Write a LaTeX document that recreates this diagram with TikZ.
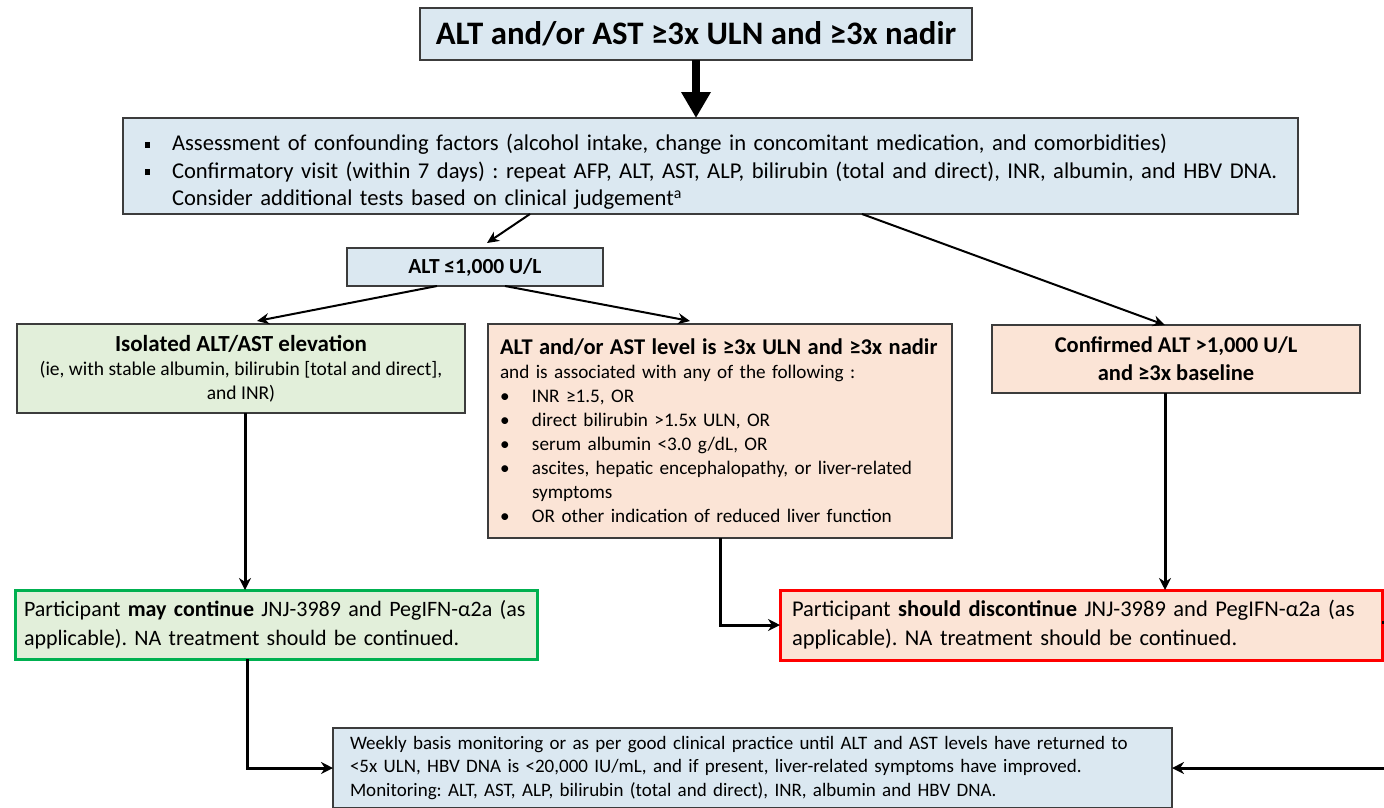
\documentclass[tikz,border=0pt]{standalone}
\usepackage{fontspec}
\setmainfont{Carlito}
\usetikzlibrary{arrows.meta,calc}
\definecolor{bluebox}{RGB}{219,232,241}
\definecolor{greenbox}{RGB}{226,239,218}
\definecolor{peachbox}{RGB}{251,228,214}
\definecolor{brightgreen}{RGB}{0,176,80}
\definecolor{brightred}{RGB}{255,0,0}
\definecolor{edge}{RGB}{60,60,60}
\newcommand{\sqb}{\makebox[27pt][l]{\raisebox{3pt}{\rule{4.5pt}{6pt}}}}
\newcommand{\rb}{\makebox[32pt][l]{\textbullet}}
\frenchspacing
\begin{document}
\begin{tikzpicture}[x=1pt,y=-1pt,
  box/.style={draw=edge, line width=1.5pt, inner sep=0pt, outer sep=0pt, anchor=center},
  conn/.style={-{Stealth[length=12pt,width=11pt]}, line width=2pt, black},
  vconn/.style={-{Stealth[length=12pt,width=12pt]}, line width=3pt, black}]
\useasboundingbox (0,0) rectangle (1384,807);

\node[box, fill=bluebox, minimum width=552pt, minimum height=52pt,
  font=\fontsize{32.8}{36}\selectfont\bfseries] (title) at (696,34)
  {ALT and/or AST ≥3x ULN and ≥3x nadir};

\node[box, fill=bluebox, minimum width=1175pt, minimum height=96pt,
  inner xsep=22pt, text width=1131pt, align=left,
  font=\fontsize{22.6}{27.5}\selectfont] (assess) at (710.5,166)
  {\mbox{\rule{0pt}{28pt}\sqb Assessment of confounding factors (alcohol intake, change in concomitant medication, and comorbidities)}\\
   \mbox{\sqb Confirmatory visit (within 7 days) : repeat AFP, ALT, AST, ALP, bilirubin (total and direct), INR, albumin, and HBV DNA.}\\
   \mbox{\hspace*{27pt}Consider additional tests based on clinical judgement\textsuperscript{a}}};

\node[box, fill=bluebox, minimum width=256pt, minimum height=38pt,
  font=\fontsize{21.5}{24}\selectfont\bfseries] (alt) at (475,267)
  {ALT ≤1,000 U/L};

\node[box, fill=greenbox, minimum width=448pt, minimum height=89pt,
  align=center, font=\fontsize{19.5}{24}\selectfont] (iso) at (241,368.5)
  {{\fontsize{23}{27}\selectfont\bfseries Isolated ALT/AST elevation}\\
   (ie, with stable albumin, bilirubin [total and direct],\\
   and INR)};

\node[box, fill=peachbox, minimum width=464pt, minimum height=214pt,
  inner xsep=12pt, text width=440pt, align=left,
  font=\fontsize{19.2}{24}\selectfont] (mid) at (720,431)
  {{\fontsize{22.5}{26}\selectfont\bfseries ALT and/or AST level is ≥3x ULN and ≥3x nadir}\\
   and is associated with any of the following :\\
   \rb INR ≥1.5, OR\\
   \rb direct bilirubin >1.5x ULN, OR\\
   \rb serum albumin <3.0 g/dL, OR\\
   \rb ascites, hepatic encephalopathy, or liver-related\\
   \hspace*{32pt}symptoms\\
   \rb OR other indication of reduced liver function};

\node[box, fill=peachbox, minimum width=368pt, minimum height=68pt,
  align=center, font=\fontsize{22.5}{28}\selectfont\bfseries] (conf) at (1176,359)
  {Confirmed ALT >1,000 U/L\\ and ≥3x baseline};

\node[box, draw=brightgreen, line width=3pt, fill=greenbox, minimum width=522pt, minimum height=69pt,
  inner xsep=9pt, text width=504pt, align=left,
  font=\fontsize{22}{29}\selectfont] (may) at (276,624.5)
  {Participant \textbf{may continue} JNJ-3989 and PegIFN-α2a (as\\
   applicable). NA treatment should be continued.};

\node[box, draw=brightred, line width=3pt, fill=peachbox, minimum width=602pt, minimum height=70pt,
  inner xsep=12pt, text width=578pt, align=left,
  font=\fontsize{22.5}{29}\selectfont] (disc) at (1081,625)
  {Participant \textbf{should discontinue} JNJ-3989 and PegIFN-α2a (as\\
   applicable). NA treatment should be continued.};

\node[box, fill=bluebox, minimum width=839pt, minimum height=80pt,
  inner xsep=17pt, text width=805pt, align=left,
  font=\fontsize{19}{23.5}\selectfont] (mon) at (752.5,768)
  {Weekly basis monitoring or as per good clinical practice until ALT and AST levels have returned to\\
   <5x ULN, HBV DNA is <20,000 IU/mL, and if present, liver-related symptoms have improved.\\
   Monitoring: ALT, AST, ALP, bilirubin (total and direct), INR, albumin and HBV DNA.};

% connectors
\draw[line width=8pt, -{Triangle[length=26pt,width=28pt]}] (title.south) -- (title.south |- assess.north);
\draw[conn] ([xshift=-180.5pt]assess.south) -- ([xshift=12pt,yshift=5pt]alt.north);
\draw[conn] ([xshift=151.5pt]assess.south) -- ([xshift=-11pt]conf.north);
\draw[conn] ([xshift=-38pt]alt.south) -- ([xshift=16pt,yshift=3pt]iso.north);
\draw[conn] ([xshift=30pt]alt.south) -- ([xshift=-30pt,yshift=3pt]mid.north);
\draw[vconn] ([xshift=4pt]iso.south) -- ([xshift=4pt]iso.south |- may.north);
\draw[vconn] (mid.south) |- (disc.west);
\draw[vconn] ([xshift=-11pt]conf.south) -- ([xshift=-11pt]conf.south |- disc.north);
\draw[vconn] ([xshift=-29pt]may.south) |- (mon.west);
\draw[vconn] ([yshift=3pt]disc.east) -- ++(25,0) |- (mon.east);
\end{tikzpicture}
\end{document}
